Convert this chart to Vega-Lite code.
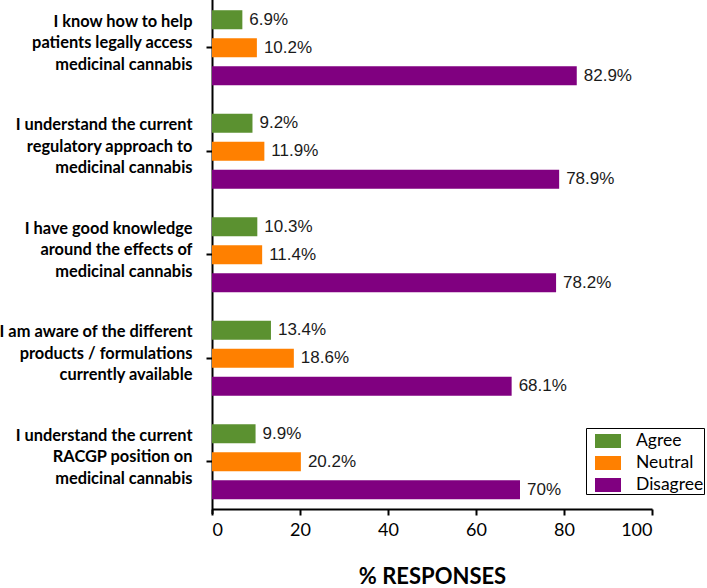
{
  "$schema": "https://vega.github.io/schema/vega-lite/v6.json",
  "width": 440,
  "height": 509,
  "autosize": {"type": "none"},
  "padding": {"left": 212, "top": 0, "right": 55, "bottom": 79},
  "background": "white",
  "config": {
    "view": {"stroke": null},
    "axis": {"grid": false, "domainColor": "black", "tickColor": "black", "domainWidth": 2, "tickWidth": 2, "labelColor": "black", "titleColor": "black"}
  },
  "data": {
    "values": [
      {"q": "I know how to help|patients legally access|medicinal cannabis", "resp": "Agree", "v": 6.9, "label": "6.9%"},
      {"q": "I know how to help|patients legally access|medicinal cannabis", "resp": "Neutral", "v": 10.2, "label": "10.2%"},
      {"q": "I know how to help|patients legally access|medicinal cannabis", "resp": "Disagree", "v": 82.9, "label": "82.9%"},
      {"q": "I understand the current|regulatory approach to|medicinal cannabis", "resp": "Agree", "v": 9.2, "label": "9.2%"},
      {"q": "I understand the current|regulatory approach to|medicinal cannabis", "resp": "Neutral", "v": 11.9, "label": "11.9%"},
      {"q": "I understand the current|regulatory approach to|medicinal cannabis", "resp": "Disagree", "v": 78.9, "label": "78.9%"},
      {"q": "I have good knowledge|around the effects of|medicinal cannabis", "resp": "Agree", "v": 10.3, "label": "10.3%"},
      {"q": "I have good knowledge|around the effects of|medicinal cannabis", "resp": "Neutral", "v": 11.4, "label": "11.4%"},
      {"q": "I have good knowledge|around the effects of|medicinal cannabis", "resp": "Disagree", "v": 78.2, "label": "78.2%"},
      {"q": "I am aware of the different|products / formulations|currently available", "resp": "Agree", "v": 13.4, "label": "13.4%"},
      {"q": "I am aware of the different|products / formulations|currently available", "resp": "Neutral", "v": 18.6, "label": "18.6%"},
      {"q": "I am aware of the different|products / formulations|currently available", "resp": "Disagree", "v": 68.1, "label": "68.1%"},
      {"q": "I understand the current|RACGP position on|medicinal cannabis", "resp": "Agree", "v": 9.9, "label": "9.9%"},
      {"q": "I understand the current|RACGP position on|medicinal cannabis", "resp": "Neutral", "v": 20.2, "label": "20.2%"},
      {"q": "I understand the current|RACGP position on|medicinal cannabis", "resp": "Disagree", "v": 70, "label": "70%"}
    ]
  },
  "encoding": {
    "y": {
      "field": "q", "type": "nominal", "sort": null,
      "scale": {"range": [-4, 513.5], "paddingInner": 0, "paddingOuter": 0},
      "axis": {
        "title": null,
        "labelExpr": "split(datum.label, '|')",
        "labelFont": "Lato", "labelFontWeight": "bold", "labelFontSize": 16.4,
        "labelLineHeight": 21.5, "labelPadding": 14, "labelLimit": 0,
        "labelOffset": -26,
        "tickSize": 6
      }
    },
    "yOffset": {
      "field": "resp", "type": "nominal", "sort": ["Agree", "Neutral", "Disagree"],
      "scale": {"paddingInner": 0.32, "paddingOuter": 0.508}
    },
    "x": {
      "field": "v", "type": "quantitative",
      "scale": {"domain": [0, 100], "nice": false},
      "axis": {
        "values": [0, 20, 40, 60, 80, 100],
        "title": "% RESPONSES",
        "titleFont": "Lato", "titleFontWeight": "bold", "titleFontSize": 22,
        "titleBaseline": "alphabetic", "titleY": 74,
        "labelFont": "Lato", "labelFontSize": 18, "labelPadding": 6,
        "tickSize": 6
      }
    }
  },
  "layer": [
    {
      "mark": {"type": "bar"},
      "encoding": {
        "color": {
          "field": "resp", "type": "nominal",
          "scale": {"domain": ["Agree", "Neutral", "Disagree"], "range": ["#5b9130", "#ff8000", "#800080"]},
          "legend": {
            "title": null, "orient": "none", "legendX": 374, "legendY": 428,
            "strokeColor": "black", "fillColor": "white", "padding": 0,
            "symbolType": "M-1,-0.54H1V0.54H-1Z", "symbolSize": 676, "symbolStrokeWidth": 0, "symbolOpacity": 1,
            "symbolOffset": 9,
            "labelFont": "Lato", "labelFontSize": 17.5, "labelColor": "black", "labelOffset": 15,
            "rowPadding": -3
          }
        }
      }
    },
    {
      "mark": {"type": "text", "align": "left", "baseline": "middle", "dx": 7, "font": "Liberation Sans", "fontSize": 17, "color": "#1a1a1a"},
      "encoding": {"text": {"field": "label"}}
    }
  ]
}
